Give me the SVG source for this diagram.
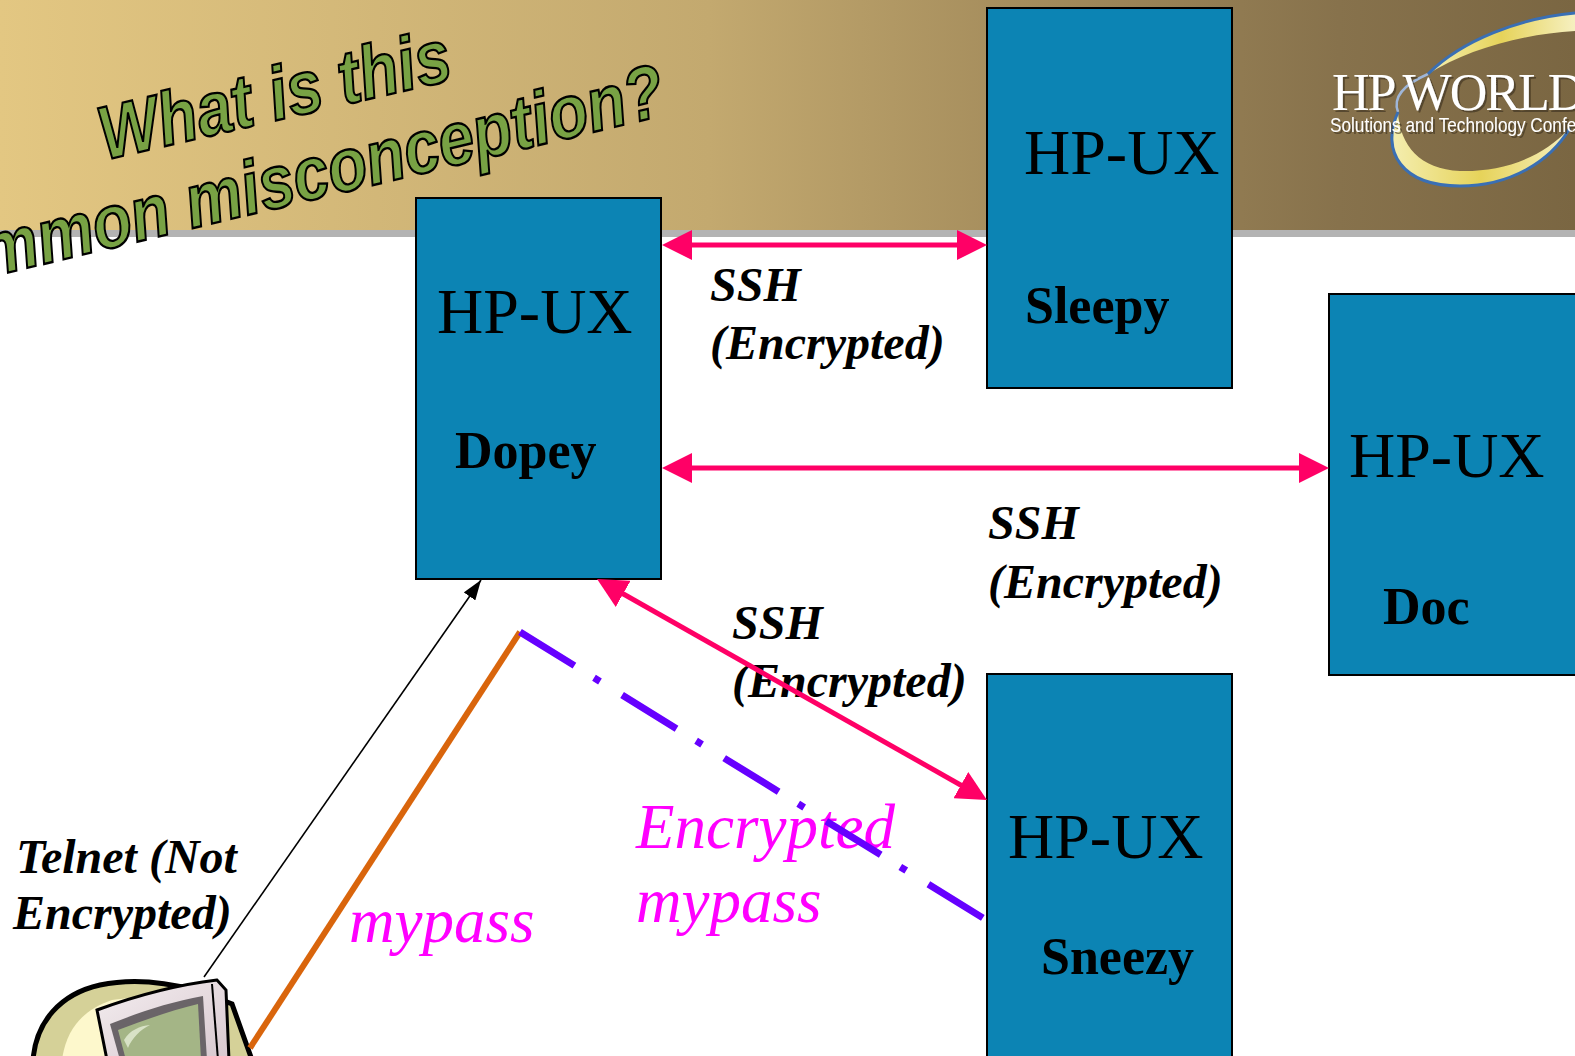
<svg xmlns="http://www.w3.org/2000/svg" width="1575" height="1056" viewBox="0 0 1575 1056">
  <defs>
    <linearGradient id="hdr" x1="0" y1="0" x2="1" y2="0">
      <stop offset="0" stop-color="#e3c782"/>
      <stop offset="0.45" stop-color="#c3a96f"/>
      <stop offset="0.65" stop-color="#a48c5c"/>
      <stop offset="0.85" stop-color="#87724c"/>
      <stop offset="1" stop-color="#7a6642"/>
    </linearGradient>
    <linearGradient id="swoosh" x1="0" y1="0" x2="1" y2="0">
      <stop offset="0" stop-color="#f4eeb0"/>
      <stop offset="0.5" stop-color="#e6d35a"/>
      <stop offset="1" stop-color="#f6f0c0"/>
    </linearGradient>
    <linearGradient id="bezel" x1="0" y1="0" x2="1" y2="1">
      <stop offset="0" stop-color="#f4eef0"/>
      <stop offset="1" stop-color="#d8c8cf"/>
    </linearGradient>
    <filter id="drop" x="-5%" y="-20%" width="110%" height="140%">
      <feOffset in="SourceAlpha" dx="2" dy="2" result="off"/>
      <feFlood flood-color="#3a2f1c" flood-opacity="0.6"/>
      <feComposite in2="off" operator="in" result="shadow"/>
      <feMerge><feMergeNode in="shadow"/><feMergeNode in="SourceGraphic"/></feMerge>
    </filter>
    <marker id="pinkHead" viewBox="0 0 30 30" markerUnits="userSpaceOnUse" markerWidth="30" markerHeight="30" refX="22" refY="15" orient="auto-start-reverse">
      <path d="M0,0 L30,15 L0,30 Z" fill="#ff0066"/>
    </marker>
    <marker id="blackHead" viewBox="0 0 20 14" markerUnits="userSpaceOnUse" markerWidth="20" markerHeight="14" refX="20" refY="7" orient="auto">
      <path d="M0,0 L20,7 L0,14 Z" fill="#000"/>
    </marker>
    <style>
      .node rect { fill: #0c84b4; stroke: #000; stroke-width: 2; }
      .os { font-family: "Liberation Serif", serif; font-size: 64px; fill: #000; }
      .name { font-family: "Liberation Serif", serif; font-size: 52px; font-weight: bold; fill: #000; }
      .lbl { font-family: "Liberation Serif", serif; font-size: 48px; font-weight: bold; font-style: italic; fill: #000; }
      .pw { font-family: "Liberation Serif", serif; font-size: 63px; font-style: italic; fill: #ff00ff; }
      .title { font-family: "Liberation Sans", Arial, sans-serif; font-size: 64px; font-weight: bold; font-style: italic; fill: #78a244; stroke: #000; stroke-width: 2; }
      .ssh { stroke: #ff0066; stroke-width: 5; fill: none; }
    </style>
  </defs>

  <!-- slide background -->
  <rect x="0" y="0" width="1575" height="1056" fill="#fff"/>
  <rect x="0" y="0" width="1575" height="231" fill="url(#hdr)"/>
  <rect x="0" y="230" width="1575" height="7" fill="#b3b3b3"/>

  <!-- title -->
  <g id="title">
    <text class="title" transform="translate(105,160) rotate(-13) scale(1,1.18)">What is this</text>
    <text class="title" transform="translate(-85,295) rotate(-13.5) scale(1,1.18)">common misconception?</text>
  </g>

  <!-- conference logo -->
  <g id="logo">
    <path d="M1398,112 C1392,96 1405,84 1428,74" fill="none" stroke="#9fb6d8" stroke-width="2.5"/>
    <path d="M1428,74 C1462,40 1520,18 1575,13 L1575,31 C1522,34 1466,50 1428,74 Z" fill="url(#swoosh)"/>
    <path d="M1428,74 C1462,40 1520,18 1575,13" fill="none" stroke="#3a6fb4" stroke-width="3"/>
    <path d="M1398,112 C1380,152 1402,186 1460,186 C1510,186 1550,162 1570,128 C1540,160 1500,172 1460,171 C1420,169 1400,146 1398,112 Z" fill="url(#swoosh)"/>
    <path d="M1398,112 C1380,152 1402,186 1460,186 C1510,186 1550,162 1570,128" fill="none" stroke="#3a6fb4" stroke-width="3"/>
    <text x="1332" y="110" font-family="Liberation Serif, serif" font-size="52" letter-spacing="-2" fill="#fff" filter="url(#drop)">HP WORLD</text>
    <text transform="translate(1330,132) scale(0.86,1)" font-family="Liberation Sans, sans-serif" font-size="20" fill="#fff" filter="url(#drop)">Solutions and Technology Conference</text>
  </g>

  <!-- user workstation -->
  <g id="workstation">
    <path d="M33,1060 C36,1022 60,994 100,985 C132,978 165,982 195,990 L232,1004 L252,1060 Z" fill="#d5d198" stroke="#000" stroke-width="5"/>
    <path d="M62,1060 C66,1030 82,1010 112,1000 L128,998 L118,1060 Z" fill="#fdf8cc"/>
    <path d="M97,1010 C135,996 175,985 217,980 L226,990 L229,1060 L107,1060 Z" fill="url(#bezel)" stroke="#000" stroke-width="3"/>
    <path d="M212,984 L218,1060" stroke="#000" stroke-width="2"/>
    <path d="M110,1024 C140,1012 170,1002 203,996 L207,1060 L120,1060 Z" fill="#6a6468"/>
    <path d="M118,1030 C145,1020 172,1010 198,1004 L201,1060 L126,1060 Z" fill="#a4b586"/>
    <path d="M124,1040 C130,1030 140,1026 150,1025 C140,1030 132,1038 128,1048 Z" fill="#d8e2c6"/>
  </g>

  <!-- hosts -->
  <g id="dopey" class="node">
    <rect x="416" y="198" width="245" height="381"/>
    <text class="os" x="437" y="333">HP-UX</text>
    <text class="name" x="455" y="468">Dopey</text>
  </g>
  <g id="sleepy" class="node">
    <rect x="987" y="8" width="245" height="380"/>
    <text class="os" x="1024" y="174">HP-UX</text>
    <text class="name" x="1025" y="323">Sleepy</text>
  </g>
  <g id="doc" class="node">
    <rect x="1329" y="294" width="250" height="381"/>
    <text class="os" x="1349" y="477">HP-UX</text>
    <text class="name" x="1383" y="624">Doc</text>
  </g>
  <g id="sneezy" class="node">
    <rect x="987" y="674" width="245" height="390"/>
    <text class="os" x="1008" y="858">HP-UX</text>
    <text class="name" x="1041" y="974">Sneezy</text>
  </g>

  <!-- connector labels -->
  <g id="labels">
    <text class="lbl" x="710" y="301">SSH</text>
    <text class="lbl" x="710" y="359">(Encrypted)</text>
    <text class="lbl" x="988" y="539">SSH</text>
    <text class="lbl" x="988" y="598">(Encrypted)</text>
    <text class="lbl" x="732" y="639">SSH</text>
    <text class="lbl" x="732" y="697">(Encrypted)</text>
    <text class="lbl" x="16" y="873">Telnet (Not</text>
    <text class="lbl" x="13" y="929">Encrypted)</text>
    <text class="pw" x="349" y="942">mypass</text>
    <text class="pw" x="636" y="848">Encrypted</text>
    <text class="pw" x="636" y="922">mypass</text>
  </g>

  <!-- connectors -->
  <g id="connectors">
    <line class="ssh" x1="670" y1="245" x2="979" y2="245" marker-start="url(#pinkHead)" marker-end="url(#pinkHead)"/>
    <line class="ssh" x1="670" y1="468" x2="1321" y2="468" marker-start="url(#pinkHead)" marker-end="url(#pinkHead)"/>
    <line class="ssh" x1="604" y1="583" x2="980" y2="796" marker-start="url(#pinkHead)" marker-end="url(#pinkHead)"/>
    <line x1="204" y1="977" x2="481" y2="580" stroke="#000" stroke-width="1.6" marker-end="url(#blackHead)"/>
    <line x1="250" y1="1048" x2="520" y2="632" stroke="#d9650c" stroke-width="6"/>
    <line x1="520" y1="632" x2="983" y2="918" stroke="#6600ff" stroke-width="7" stroke-dasharray="64 23 7 26"/>
  </g>
</svg>
